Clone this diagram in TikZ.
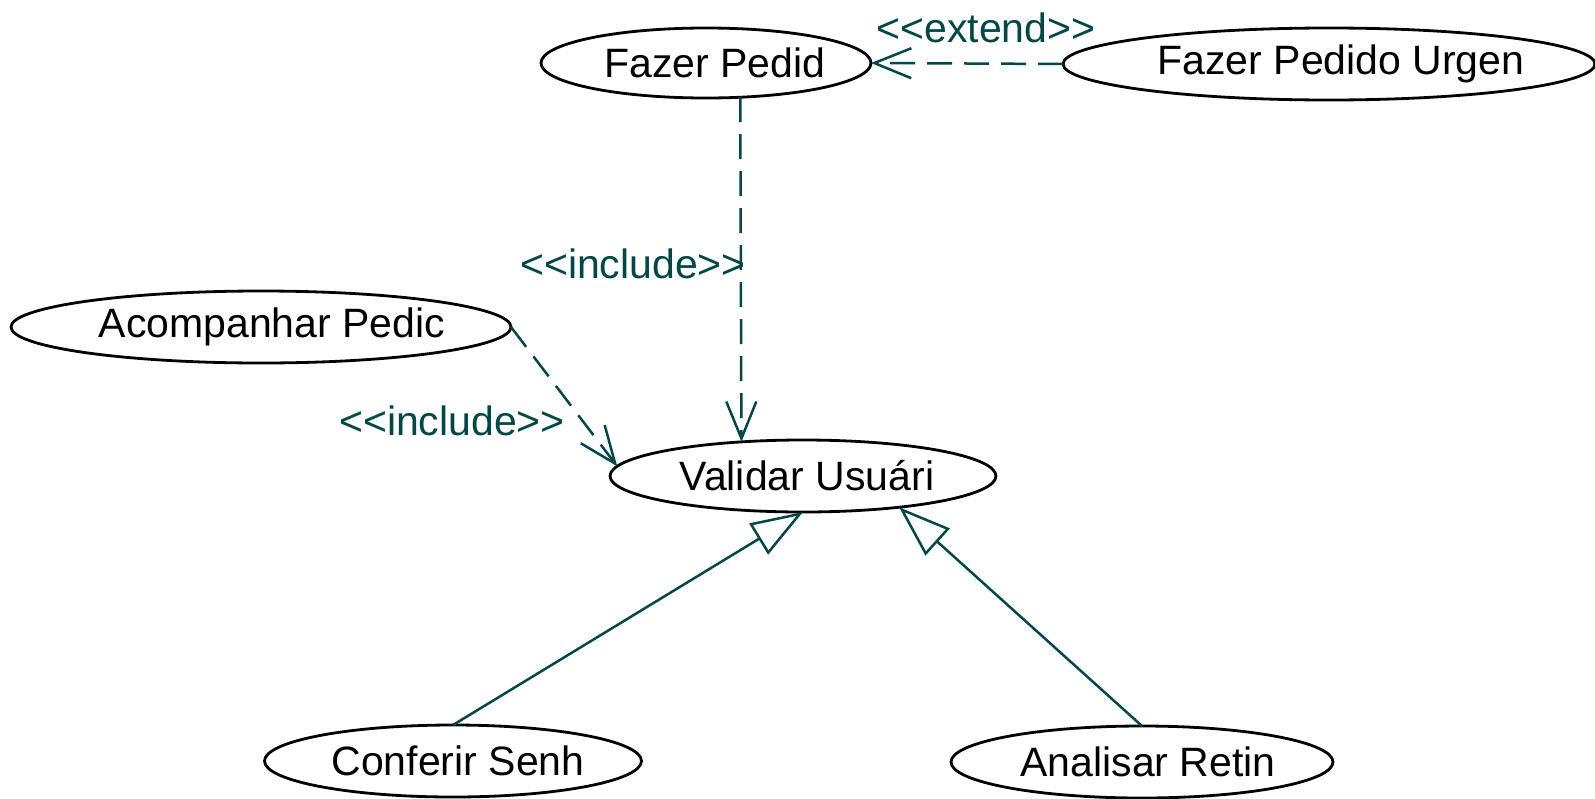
\documentclass[tikz,border=0pt]{standalone}
\usepackage{fontspec}
\setmainfont{Liberation Sans}
\usetikzlibrary{arrows.meta,shapes.geometric}
\definecolor{umlteal}{RGB}{0,72,70}
\newcommand{\uctext}[2]{\makebox[0pt]{\hspace*{#1}#2}}
\begin{document}
\begin{tikzpicture}[x=1pt,y=-1pt,
  uc/.style={ellipse, draw=black, line width=2.8pt, inner sep=0pt, outer sep=0pt,
    font=\fontsize{41}{49}\selectfont},
  lbl/.style={text=umlteal, font=\fontsize{41}{49}\selectfont, inner sep=0pt, anchor=base},
  dep/.style={draw=umlteal, line width=2.5pt, dash pattern=on 25pt off 12pt,
    -{Straight Barb[length=37pt,width=30pt]}},
  gen/.style={draw=umlteal, line width=2.5pt,
    -{Triangle[open,length=52pt,width=36pt]}}]
\useasboundingbox (0,0) rectangle (1595,798);
\node[uc, minimum width=330pt, minimum height=70pt] (fp) at (706,63) {\uctext{18pt}{Fazer Pedid}};
\node[uc, minimum width=532pt, minimum height=72pt] (fu) at (1329,64) {\uctext{24pt}{Fazer Pedido Urgen}};
\node[uc, minimum width=500pt, minimum height=72pt] (ap) at (261,327) {\uctext{22pt}{Acompanhar Pedic}};
\node[uc, minimum width=386pt, minimum height=72pt] (vu) at (803,476) {\uctext{8pt}{Validar Usuári}};
\node[uc, minimum width=377pt, minimum height=72pt] (cs) at (453,761) {\uctext{10pt}{Conferir Senh}};
\node[uc, minimum width=382pt, minimum height=72pt] (ar) at (1142,762) {\uctext{12pt}{Analisar Retin}};
\draw[dep] (fu.west) -- (fp.east);
\draw[dep] (fp.-45) -- (vu.151.6);
\draw[dep] (ap.east) -- (vu.177);
\draw[gen] (cs.north) -- (vu.south);
\draw[gen] (ar.north) -- (vu.-18.5);
\node[lbl] (le) at (986,42) {<\kern0pt<extend>\kern0pt>};
\node[lbl] (li1) at (633,278) {<\kern0pt<include>\kern0pt>};
\node[lbl] (li2) at (452,435) {<\kern0pt<include>\kern0pt>};
\end{tikzpicture}
\end{document}
